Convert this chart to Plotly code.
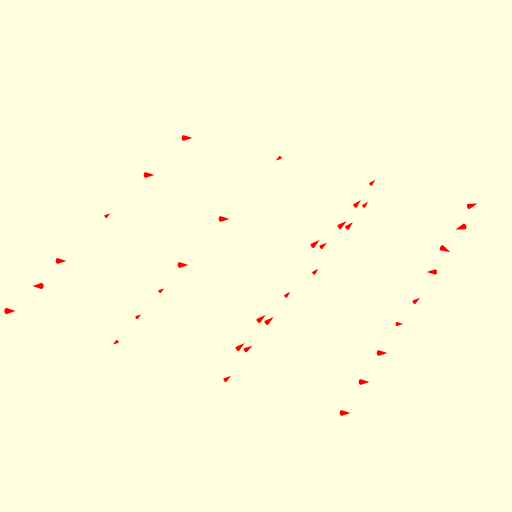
import plotly.graph_objects as go

# positions of cones
x_vals = [188, 278, 150, 108, 225, 62, 184, 162, 37, 139, 11, 115,
          373, 358, 366, 343, 350, 316, 324, 316, 288, 262, 270, 241, 249, 228,
          473, 460, 446, 431, 417, 400, 383, 365, 346]
y_vals = [138, 159, 175, 215, 219, 261, 265, 290, 286, 316, 311, 343,
          182, 203, 204, 224, 225, 243, 245, 271, 294, 318, 320, 346, 348, 378,
          205, 228, 250, 272, 300, 324, 353, 382, 413]
z_vals = [0] * len(x_vals)
u_vals = [6, -3, 6, 3, 6, 6, 6, 3, -6, 3, 6, -3,
          3, 4, 3, 5, 4, 5, 4, 3, 3, 5, 5, 5, 5, 4,
          6, -6, 6, -6, 4, 4, 6, 6, 6]
v_vals = [0, 2, 0, -2, 0, 0, 0, -2, 0, -2, 0, 2,
          -3, -4, -3, -4, -4, -4, -3, -3, -3, -4, -4, -4, -3, -3,
          -2, 2, 3, 0, -3, 0, 0, 0, 0]
w_vals = [-5, -3, -5, -3, -5, -5, -5, -3, -6, -3, -6, -3,
          -3, -3, -3, -3, -3, -3, -3, -3, -3, -3, -3, -3, -3, -3,
          -4, -5, -4, -4, -3, -4, -5, -5, -5]

fig = go.Figure(go.Cone(
    x=x_vals, y=y_vals, z=z_vals, u=u_vals, v=v_vals, w=w_vals,
    colorscale=[[0, "red"], [1, "red"]], showscale=False,
    sizemode="raw", sizeref=1.5, anchor="center",
    lighting=dict(ambient=1, diffuse=0, specular=0),
))
ax = dict(visible=False, showbackground=False)
fig.update_layout(
    width=512, height=512, margin=dict(l=0, r=0, t=0, b=0),
    paper_bgcolor="lightyellow",
    scene=dict(
        xaxis=dict(range=[0, 512], **ax),
        yaxis=dict(range=[0, 512], **ax),
        zaxis=dict(range=[-256, 256], **ax),
        aspectmode="manual", aspectratio=dict(x=2, y=2, z=2),
        bgcolor="lightyellow",
        camera=dict(eye=dict(x=0, y=0, z=-1), up=dict(x=0, y=-1, z=0),
                    center=dict(x=0, y=0, z=0),
                    projection=dict(type="orthographic")),
    ),
)
fig.write_html("out.html")
